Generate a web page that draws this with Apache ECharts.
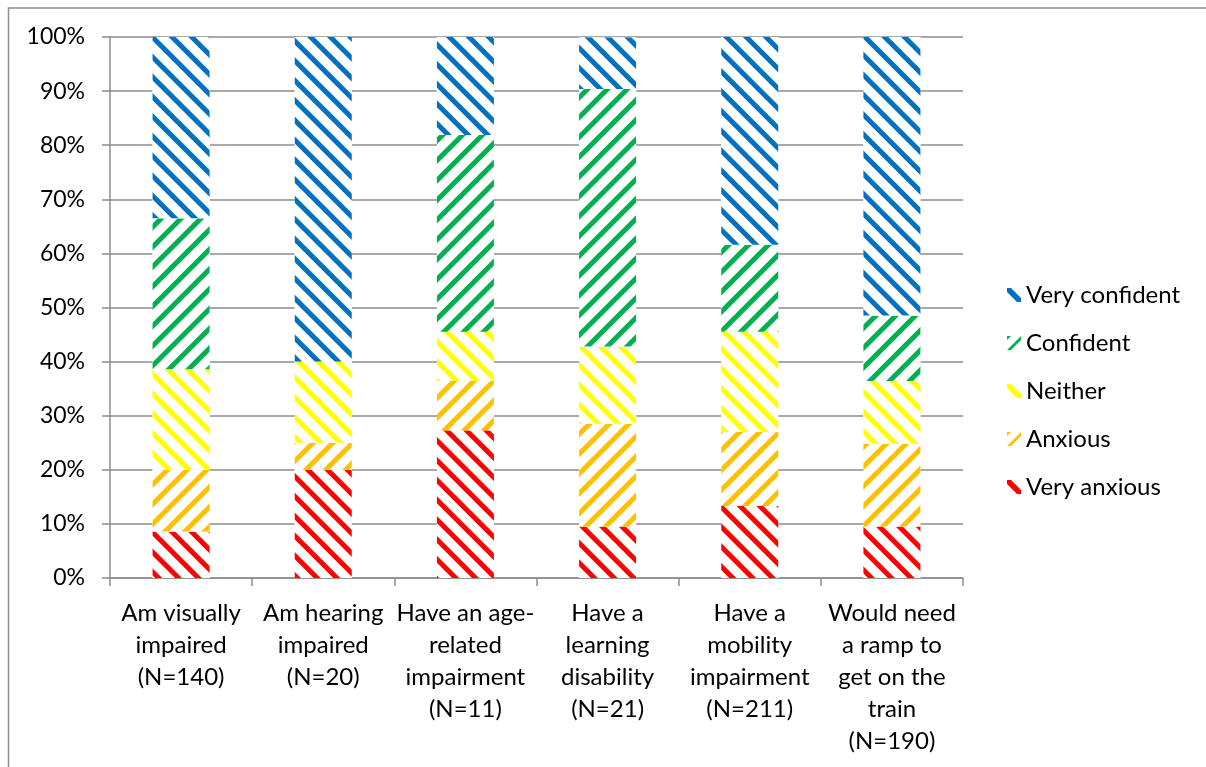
<!DOCTYPE html>
<html>
<head>
<meta charset="utf-8">
<script src="https://cdn.jsdelivr.net/npm/echarts@6/dist/echarts.min.js"></script>
<style>
html,body{margin:0;padding:0;background:#fff;}
#c{width:1206px;height:767px;}
</style>
</head>
<body>
<div id="c"></div>
<script>
var categories = [
  "Am visually\nimpaired\n(N=140)",
  "Am hearing\nimpaired\n(N=20)",
  "Have an age-\nrelated\nimpairment\n(N=11)",
  "Have a\nlearning\ndisability\n(N=21)",
  "Have a\nmobility\nimpairment\n(N=211)",
  "Would need\na ramp to\nget on the\ntrain\n(N=190)"
];
var veryAnxious   = [8.6, 20.0, 27.3, 9.5, 13.3, 9.5];
var anxious       = [11.4, 5.0, 9.1, 19.0, 13.7, 15.3];
var neither       = [18.6, 15.0, 9.1, 14.3, 18.5, 11.6];
var confident     = [27.9, 0.0, 36.4, 47.6, 16.1, 12.1];
var veryConfident = [33.6, 60.0, 18.2, 9.5, 38.4, 51.6];
var yTicks = [0,10,20,30,40,50,60,70,80,90,100];

var FONT = 'Lato';
var seriesDefs = [
  {name:'Very anxious', data:veryAnxious, color:'#FF0000', dir:'back'},
  {name:'Anxious', data:anxious, color:'#FFC000', dir:'fwd'},
  {name:'Neither', data:neither, color:'#FFFF00', dir:'back'},
  {name:'Confident', data:confident, color:'#00B050', dir:'fwd'},
  {name:'Very confident', data:veryConfident, color:'#0070C0', dir:'back'}
];
var iconBack = 'path://M0,0 L4,0 L14,10 L14,14 L10,14 L0,4 Z';
var iconFwd = 'path://M0,0 L4,0 L0,4 Z M14,0 L14,4 L4,14 L0,14 Z';

var series = seriesDefs.map(function(s){
  return {
    name: s.name,
    type: 'bar',
    stack: 'total',
    barWidth: 57,
    data: s.data,
    itemStyle: {
      color: '#ffffff',
      decal: {
        symbol: 'rect',
        symbolSize: 1,
        color: s.color,
        backgroundColor: '#ffffff',
        dashArrayX: [1, 0],
        dashArrayY: [5, 8.5],
        rotation: s.dir === 'back' ? Math.PI/4 : -Math.PI/4
      }
    },
    emphasis: {disabled: true}
  };
});

var legendData = seriesDefs.slice().reverse().map(function(s){
  return {name: s.name, icon: s.dir === 'back' ? iconBack : iconFwd, itemStyle:{color:s.color, decal:'none'}};
});

var chart = echarts.init(document.getElementById('c'), null, {renderer:'canvas'});
chart.setOption({
  animation: false,
  backgroundColor: '#ffffff',
  graphic: [{
    type: 'polyline',
    shape: {points: [[8.5, 767], [8.5, 8], [1206, 8]]},
    style: {stroke: '#8c8c8c', lineWidth: 1.5, fill: null},
    silent: true
  }],
  grid: {left: 110, right: 243, top: 37, bottom: 189, containLabel: false},
  legend: {
    orient: 'vertical',
    left: 1002,
    top: 278,
    itemWidth: 14,
    itemHeight: 14,
    itemGap: 24,
    data: legendData,
    textStyle: {fontFamily: FONT, fontSize: 24, color: '#000'},
    selectedMode: false
  },
  xAxis: {
    type: 'category',
    data: categories,
    axisLine: {lineStyle: {color: '#8c8c8c', width: 1.5}},
    axisTick: {show: true, length: 8, lineStyle: {color: '#8c8c8c', width: 1.5}},
    axisLabel: {fontFamily: FONT, fontSize: 24, color: '#000', lineHeight: 32, margin: 19, interval: 0}
  },
  yAxis: {
    type: 'value',
    min: 0, max: 100, interval: 10,
    axisLine: {show: true, lineStyle: {color: '#8c8c8c', width: 1.5}},
    axisTick: {show: true, length: 8, lineStyle: {color: '#8c8c8c', width: 1.5}},
    splitLine: {lineStyle: {color: '#8c8c8c', width: 1.5}},
    axisLabel: {
      fontFamily: FONT, fontSize: 23, color: '#000', margin: 25,
      formatter: function(v){ return yTicks.indexOf(v) >= 0 ? v + '%' : ''; }
    }
  },
  series: series
});
</script>
</body>
</html>
